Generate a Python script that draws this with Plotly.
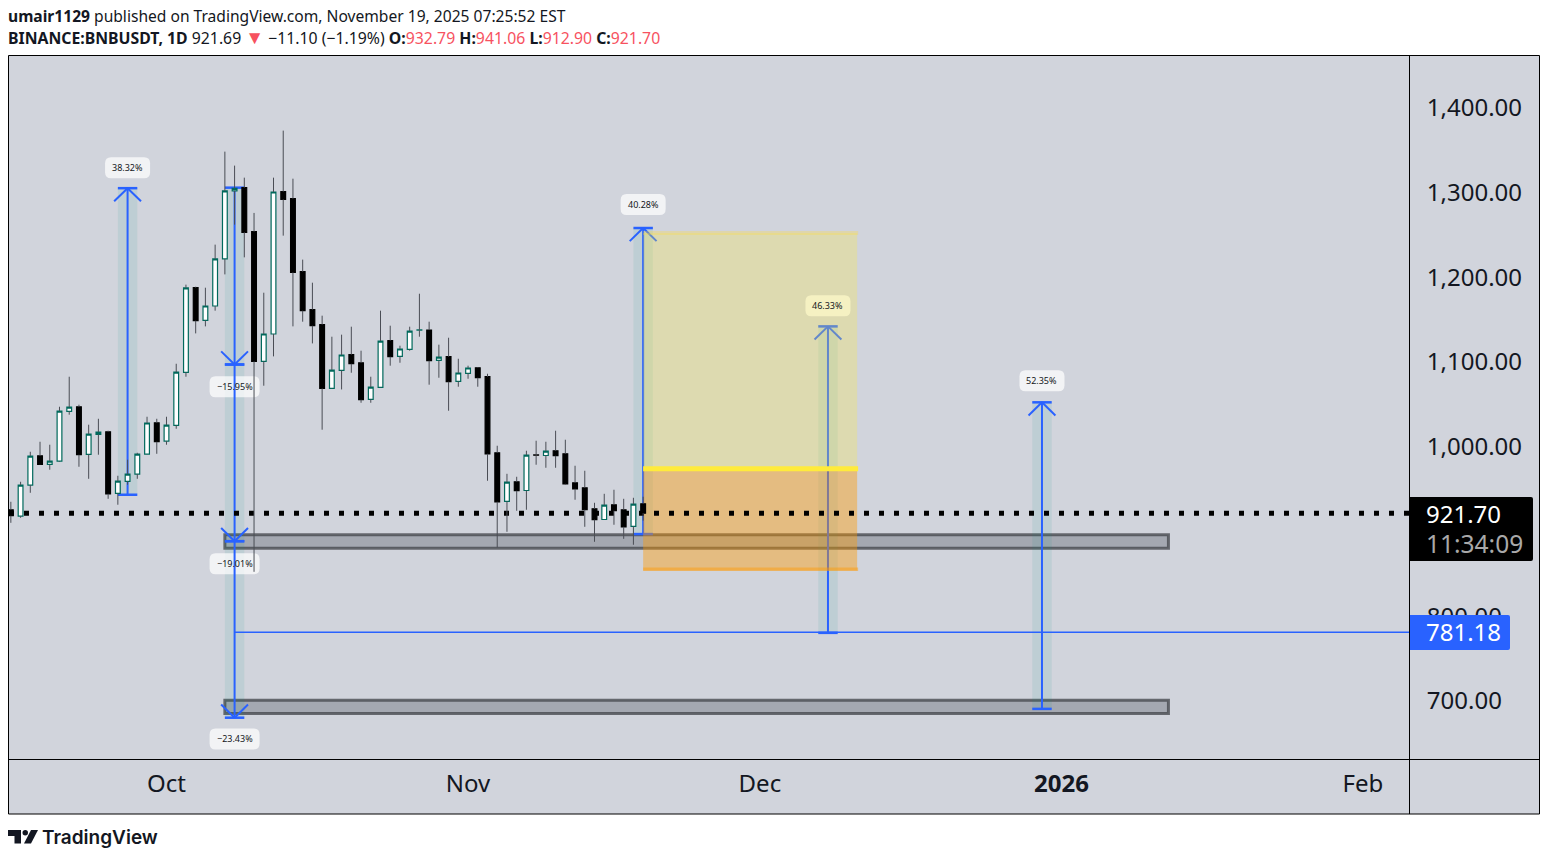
import pandas as pd
import plotly.graph_objects as go

BG = "#D1D4DC"
BLUE = "#2962FF"
INK = "#131722"
RED = "#F7525F"

dates = pd.date_range("2025-09-15", "2025-11-19").strftime("%Y-%m-%d").tolist()
opens = [925.7, 918.2, 954.8, 989.4, 979.1, 983.1, 1041.7, 1047.2, 990.9, 1014.5, 1017.7,
         944.9, 959.1, 967.8, 991.4, 1028.3, 1006.7, 1025.1, 1087.7, 1187.6, 1149.0, 1166.0,
         1221.5, 1301.7, 1305.6, 1253.7, 1100.7, 1133.0, 1300.9, 1292.6, 1206.5, 1161.7,
         1144.0, 1068.8, 1090.0, 1108.6, 1099.1, 1055.8, 1070.0, 1125.1, 1106.6, 1114.8,
         1137.5, 1137.7, 1101.8, 1106.2, 1077.1, 1086.5, 1093.2, 1082.6, 992.9, 935.5,
         958.7, 948.4, 990.4, 989.7, 995.3, 991.7, 957.5, 951.6, 926.8, 914.2, 931.6,
         925.7, 906.0, 932.79]
highs = [935.1, 958.7, 994.1, 1005.9, 1002.4, 1047.2, 1082.6, 1049.6, 1026.0, 1033.0, 1018.9,
         965.8, 984.7, 992.9, 1035.4, 1033.0, 1035.4, 1097.9, 1191.2, 1188.8, 1187.6, 1238.4,
         1348.1, 1331.6, 1317.4, 1275.8, 1181.7, 1317.4, 1372.9, 1316.2, 1220.7, 1193.5,
         1154.6, 1129.8, 1132.2, 1141.6, 1113.3, 1082.6, 1160.5, 1142.8, 1119.2, 1141.6,
         1180.5, 1147.5, 1120.4, 1128.6, 1103.8, 1095.6, 1093.8, 1086.1, 1001.2, 968.1,
         964.6, 995.3, 1007.1, 1005.9, 1018.9, 1008.3, 977.6, 971.7, 933.9, 944.5, 949.3,
         938.6, 939.8, 941.06]
lows = [910.3, 916.2, 945.7, 978.8, 972.9, 982.3, 1037.8, 976.4, 962.2, 990.6, 938.6,
        931.6, 955.2, 962.2, 991.2, 991.7, 1002.4, 1021.2, 1082.6, 1133.7, 1142.0, 1160.5,
        1203.3, 1262.0, 1223.4, 852.5, 1072.0, 1106.6, 1249.0, 1142.0, 1147.5, 1121.9,
        1020.1, 1068.4, 1067.6, 1087.3, 1051.9, 1051.9, 1069.6, 1095.6, 1099.1, 1113.3,
        1129.8, 1073.2, 1081.4, 1042.5, 1070.8, 1080.2, 1070.8, 959.9, 881.2, 899.7,
        924.5, 925.7, 978.8, 975.2, 975.2, 955.2, 937.5, 905.6, 887.9, 913.9, 908.0,
        891.4, 884.4, 912.90]
closes = [918.6, 954.8, 989.0, 979.1, 983.1, 1042.1, 1046.8, 990.6, 1015.0, 1017.3, 944.5,
          959.5, 967.8, 991.4, 1028.0, 1005.9, 1025.6, 1088.1, 1187.3, 1148.7, 1166.0, 1221.5,
          1301.7, 1304.8, 1252.9, 1100.7, 1133.0, 1300.5, 1291.8, 1205.7, 1160.5, 1142.8,
          1068.8, 1090.5, 1108.2, 1097.9, 1055.5, 1070.4, 1124.7, 1106.2, 1115.3, 1136.5,
          1137.9, 1101.5, 1105.8, 1076.7, 1087.0, 1092.9, 1081.4, 991.7, 935.1, 958.3,
          948.1, 990.2, 990.0, 994.9, 989.4, 956.3, 950.4, 925.7, 913.9, 931.2, 924.5,
          905.6, 932.4, 921.70]

last_price = 921.70
level_price = 781.18
# 900 sits fully behind the black tag in the reference, so it is left out
price_ticks = [1400, 1300, 1200, 1100, 1000, 800, 700]
month_ticks = ["2025-10-01", "2025-11-01", "2025-12-01", "2026-01-01", "2026-02-01"]
month_labels = ["Oct", "Nov", "Dec", "<b>2026</b>", "Feb"]

# price range tools
measure_dates = ["2025-09-27", "2025-10-08", "2025-10-08", "2025-10-08", "2025-11-19", "2025-12-08", "2025-12-30"]
measure_from = [943.4, 1305.6, 1097.0, 888.6, 897.0, 780.5, 690.8]
measure_to = [1305.0, 1097.0, 888.6, 680.4, 1258.0, 1142.0, 1052.4]
measure_text = ["38.32%", "−15.95%", "−19.01%", "−23.43%", "40.28%", "46.33%", "52.35%"]
pill_prices = [1329.2, 1070.8, 861.9, 655.4, 1285.6, 1166.4, 1077.9]


def px_x(v):
    return (v - 9) / 1400


def px_y(v):
    return (759 - v) / 703


def shift(d, days):
    return (pd.Timestamp(d) + pd.Timedelta(days=days)).strftime("%Y-%m-%d %H:%M")


def seg(x0, y0, x1, y1, color=BLUE, width=2, layer="below", dash=None):
    return dict(type="line", x0=x0, y0=y0, x1=x1, y1=y1, layer=layer,
                line=dict(color=color, width=width, dash=dash))


def pill(d, price, half_w):
    w, h, r = half_w, 10.5, 6
    path = (f"M {-w + r} {-h} L {w - r} {-h} Q {w} {-h} {w} {-h + r} L {w} {h - r} Q {w} {h} {w - r} {h} "
            f"L {-w + r} {h} Q {-w} {h} {-w} {h - r} L {-w} {-h + r} Q {-w} {-h} {-w + r} {-h} Z")
    return dict(type="path", path=path, xsizemode="pixel", ysizemode="pixel", xanchor=d, yanchor=price,
                fillcolor="rgba(255,255,255,0.72)", line=dict(width=0), layer="below")


def poly(points):
    return "M " + " L ".join(f"{px_x(a):.5f} {px_y(b):.5f}" for a, b in points) + " Z"


def rounded_tag(x0, y0, x1, y1, color):
    r = 2
    path = (f"M {px_x(x0):.5f} {px_y(y0):.5f} L {px_x(x1 - r):.5f} {px_y(y0):.5f} "
            f"Q {px_x(x1):.5f} {px_y(y0):.5f} {px_x(x1):.5f} {px_y(y0 + r):.5f} "
            f"L {px_x(x1):.5f} {px_y(y1 - r):.5f} Q {px_x(x1):.5f} {px_y(y1):.5f} {px_x(x1 - r):.5f} {px_y(y1):.5f} "
            f"L {px_x(x0):.5f} {px_y(y1):.5f} Z")
    return dict(type="path", xref="paper", yref="paper", path=path, fillcolor=color, line=dict(width=0), layer="above")


x_start = shift("2025-10-01", -16.19)
x_end = shift("2025-10-01", 127.73)

shapes = []

# panes behind everything
shapes.append(dict(type="rect", xref="paper", yref="paper", x0=px_x(8.5), x1=px_x(1539.5), y0=px_y(55.5), y1=px_y(814),
                   fillcolor=BG, line=dict(width=0), layer="below"))

# grey support zones
for top, bottom in [(896.2, 880.2), (700.9, 685.5)]:
    shapes.append(dict(type="rect", x0="2025-10-07", x1="2026-01-12", y0=bottom, y1=top, layer="below",
                       fillcolor="rgba(120,123,134,0.5)", line=dict(color="rgba(60,62,68,0.72)", width=3)))

# shading of the measure tools
for d, a, b in zip(measure_dates, measure_from, measure_to):
    shapes.append(dict(type="rect", x0=shift(d, -1), x1=shift(d, 1), y0=a, y1=b, layer="below",
                       fillcolor="rgba(0,150,136,0.09)", line=dict(width=0)))

for d, p, t in zip(measure_dates, pill_prices, measure_text):
    shapes.append(pill(d, p, 25 if t.startswith("−") else 22.5))

for d, a, b in zip(measure_dates, measure_from, measure_to):
    sign = 1 if b > a else -1
    shapes.append(seg(d, a, d, b))
    shapes.append(seg(shift(d, -1), a, shift(d, 1), a, width=2.5))
    shapes.append(seg(shift(d, -1), b, shift(d, 1), b, width=2.5))
    shapes.append(seg(shift(d, -1.38), b - sign * 15.5, d, b))
    shapes.append(seg(shift(d, 1.38), b - sign * 15.5, d, b))

# horizontal level
shapes.append(seg("2025-10-08", level_price, x_end, level_price, width=1.5))

# yellow and orange boxes of the trade idea
shapes.append(dict(type="rect", x0="2025-11-19", x1="2025-12-11", y0=974, y1=1252, layer="below",
                   fillcolor="rgba(255,235,59,0.27)", line=dict(width=0)))
shapes.append(dict(type="rect", x0="2025-11-19", x1="2025-12-11", y0=854, y1=974, layer="below",
                   fillcolor="rgba(255,152,0,0.41)", line=dict(width=0)))
shapes.append(seg("2025-11-19", 1252, shift("2025-12-11", 0.1), 1252, color="rgba(255,220,60,0.3)", width=4))
shapes.append(seg("2025-11-19", 974, shift("2025-12-11", 0.1), 974, color="#FFEB3B", width=5))
shapes.append(seg("2025-11-19", 855.5, shift("2025-12-11", 0.1), 855.5, color="rgba(255,152,0,0.45)", width=3.5))

# last price line
shapes.append(seg(x_start, last_price, x_end, last_price, color="black", width=5, dash="5px,10px"))

# frame and pane dividers
for x0, y0, x1, y1 in [(8.5, 55.5, 1539.5, 55.5), (8.5, 814, 1539.5, 814), (8.5, 55.5, 8.5, 814),
                       (1539.5, 55.5, 1539.5, 814), (1409.5, 55.5, 1409.5, 814), (8.5, 759.5, 1539.5, 759.5)]:
    shapes.append(dict(type="line", xref="paper", yref="paper", x0=px_x(x0), x1=px_x(x1), y0=px_y(y0), y1=px_y(y1),
                       line=dict(color="black", width=1), layer="above"))

# price tags on the axis
shapes.append(rounded_tag(1410, 497, 1533, 561, "black"))
shapes.append(rounded_tag(1410, 615, 1510, 650, BLUE))

# TradingView logo
shapes.append(dict(type="path", xref="paper", yref="paper", path=poly([(8, 830), (21, 830), (21, 843.5), (14.5, 843.5), (14.5, 836), (8, 836)]),
                   fillcolor=INK, line=dict(width=0), layer="above"))
shapes.append(dict(type="path", xref="paper", yref="paper", path=poly([(31, 830), (38, 830), (31, 843.5), (24, 843.5)]),
                   fillcolor=INK, line=dict(width=0), layer="above"))
shapes.append(dict(type="circle", xref="paper", yref="paper", x0=px_x(22.5), x1=px_x(28), y0=px_y(830), y1=px_y(835.5),
                   fillcolor=INK, line=dict(width=0), layer="above"))


def paper_text(x, y, text, size, color=INK, weight=None, family="Noto Sans"):
    return dict(xref="paper", yref="paper", x=px_x(x), y=px_y(y), text=text, showarrow=False,
                xanchor="left", yanchor="middle", align="left",
                font=dict(family=family, size=size, color=color, weight=weight))


def red(s):
    return f'<span style="color:{RED}">{s}</span>'


annotations = [
    paper_text(6, 16, "<b>umair1129</b> published on TradingView.com, November 19, 2025 07:25:52 EST", 15.6),
    paper_text(6, 37.5, f"<b>BINANCE:BNBUSDT, 1D</b> 921.69 <span style=\"color:{RED};font-size:19px\">▼</span> −11.10 (−1.19%) "
                        f"<b>O:</b>{red('932.79')} <b>H:</b>{red('941.06')} <b>L:</b>{red('912.90')} <b>C:</b>{red('921.70')}", 15.8),
    paper_text(1424, 513.5, "921.70", 24, color="white"),
    paper_text(1424, 543.5, "11:34:09", 24.5, color="#A9A9A9"),
    paper_text(1424, 631.5, "781.18", 24, color="white"),
    paper_text(39.5, 837.5, "TradingView", 19, weight=600, family="Inter"),
]
for d, p, t in zip(measure_dates, pill_prices, measure_text):
    annotations.append(dict(x=d, y=p, text=t, showarrow=False, xanchor="center", yanchor="middle",
                            font=dict(family="Noto Sans", size=9, color=INK)))

# wicks are drawn apart from the bodies, they are grey in the reference
wick_x, wick_y = [], []
for d, o, h, l, c in zip(dates, opens, highs, lows, closes):
    wick_x += [d, d, None, d, d, None]
    wick_y += [h, max(o, c), None, min(o, c), l, None]

fig = go.Figure()
fig.add_trace(go.Candlestick(
    x=dates, open=opens, close=closes,
    high=[max(o, c) for o, c in zip(opens, closes)],
    low=[min(o, c) for o, c in zip(opens, closes)],
    increasing=dict(line=dict(color="#00695C", width=1.2), fillcolor="white"),
    decreasing=dict(line=dict(color="black", width=1.2), fillcolor="black"),
    hoverinfo="skip",
))
fig.add_trace(go.Scatter(x=wick_x, y=wick_y, mode="lines", line=dict(color="#4A4D55", width=1), hoverinfo="skip"))

fig.update_layout(
    width=1548, height=861,
    margin=dict(l=9, r=139, t=56, b=102),
    paper_bgcolor="white", plot_bgcolor=BG,
    showlegend=False,
    shapes=shapes, annotations=annotations,
    font=dict(family="Noto Sans", color=INK),
)
fig.update_xaxes(
    type="date", range=[x_start, x_end], rangeslider_visible=False, showgrid=False, zeroline=False,
    tickmode="array", tickvals=month_ticks, ticktext=month_labels,
    ticks="outside", ticklen=3, tickcolor="rgba(0,0,0,0)", tickfont=dict(size=24, color=INK),
)
fig.update_yaxes(
    side="right", range=[631.7, 1460.9], showgrid=False, zeroline=False,
    tickmode="array", tickvals=price_ticks, tickformat=",.2f",
    ticks="outside", ticklen=12, tickcolor="rgba(0,0,0,0)", tickfont=dict(size=24, color=INK),
)

fig.write_html("out.html", config=dict(displayModeBar=False),
               post_script="document.body.style.margin='0';")
